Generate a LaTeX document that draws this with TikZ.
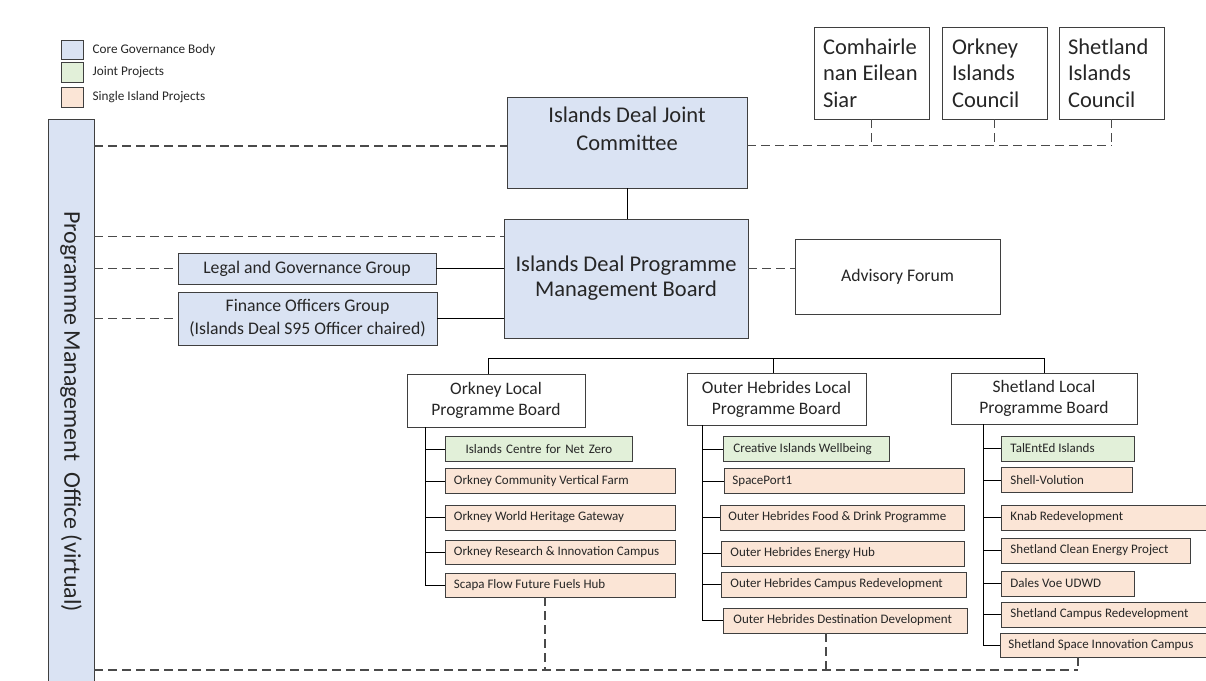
\documentclass[tikz,border=0pt]{standalone}
\usepackage{fontspec}
\setmainfont{Carlito}
\usetikzlibrary{positioning}

\definecolor{govblue}{HTML}{DAE3F3}
\definecolor{jointgreen}{HTML}{E2F0D9}
\definecolor{singlepeach}{HTML}{FBE5D6}
\definecolor{boxline}{HTML}{3F3F3F}
\definecolor{txt}{HTML}{262626}
\definecolor{dashgrey}{HTML}{4A4A4A}

\begin{document}
\begin{tikzpicture}[x=1pt, y=-1pt]
\tikzstyle{box} = [draw=boxline, line width=0.9pt, text=txt, inner sep=0pt, align=center];
\tikzstyle{core} = [box, fill=govblue];
\tikzstyle{plainbox} = [box, fill=white];
\tikzstyle{proj} = [box, anchor=west, inner xsep=9pt, minimum height=25pt, align=flush left, font=\fontsize{13}{15}\selectfont];
\tikzstyle{joint} = [proj, fill=jointgreen];
\tikzstyle{single} = [proj, fill=singlepeach];
\tikzstyle{link} = [black, line width=1pt];
\tikzstyle{dashlink} = [dashgrey, line width=1.1pt, dash pattern=on 9pt off 5pt];
\tikzstyle{big} = [font=\fontsize{22.5}{26.5}\selectfont];
\tikzstyle{mid} = [font=\fontsize{17.5}{21}\selectfont];
\tikzstyle{grp} = [font=\fontsize{17.7}{23}\selectfont];
\tikzstyle{council} = [plainbox, big, minimum height=92pt, align=flush left];
\tikzstyle{legendtxt} = [text=txt, inner sep=0pt, font=\fontsize{13.2}{15}\selectfont];

\useasboundingbox (0,0) rectangle (1206,680);
\clip (0,0) rectangle (1206,680);

% legend
\node[core, minimum width=22pt, minimum height=19pt] (lgcore) at (72,49.5) {};
\node[joint, anchor=center, minimum width=22pt, minimum height=20pt, inner xsep=0pt] (lgjoint) at (72,72) {};
\node[single, anchor=center, minimum width=22pt, minimum height=20pt, inner xsep=0pt] (lgsingle) at (72,97) {};
\node[legendtxt, right=9pt of lgcore] (lgcoret) {Core Governance Body};
\node[legendtxt, right=9pt of lgjoint] (lgjointt) {Joint Projects};
\node[legendtxt, right=9pt of lgsingle] (lgsinglet) {Single Island Projects};

% programme management office
\node[core, minimum width=46pt, minimum height=585pt] (pmo) at (71,411.5) {};
\node[rotate=-90, text=txt, font=\fontsize{24}{28}\selectfont] (pmot) at (pmo.center) {Programme Management\ \ Office (virtual)};

% councils
\node[council, inner xsep=9pt, text width=97pt] (cne) at (871.5,73) {Comhairle\\nan Eilean\\Siar};
\node[council, inner xsep=10pt, text width=85pt] (oic) at (994.5,73) {Orkney\\Islands\\Council};
\node[council, inner xsep=9pt, text width=87pt] (sic) at (1111.5,73) {Shetland\\Islands\\Council};

% governance
\node[core, font=\fontsize{22.5}{28}\selectfont, minimum width=240pt, minimum height=91pt] (jc) at (627,142.5) {Islands Deal Joint\\Committee\\ \mbox{}};
\node[core, font=\fontsize{22.5}{25}\selectfont, minimum width=244pt, minimum height=119pt] (pmb) at (626,278.5) {Islands Deal Programme\\Management Board};
\node[core, grp, minimum width=258pt, minimum height=31pt] (legal) at (307,268.5) {Legal and Governance Group};
\node[core, grp, minimum width=259pt, minimum height=53pt] (finance) at (307.5,318.5) {Finance Officers Group\\(Islands Deal S95 Officer chaired)};
\node[plainbox, grp, minimum width=205pt, minimum height=75pt] (af) at (897.5,276.5) {Advisory Forum};

% local programme boards
\node[plainbox, mid, minimum width=178pt, minimum height=53pt] (olpb) at (496,400.5) {Orkney Local\\Programme Board};
\node[plainbox, mid, minimum width=179pt, minimum height=52pt] (hlpb) at (776.5,399) {Outer Hebrides Local\\Programme Board};
\node[plainbox, mid, minimum width=186pt, minimum height=51pt] (slpb) at (1044,398.5) {Shetland Local\\Programme Board};

% orkney projects
\node[joint, text width=169pt, align=center] (o1) at (445,449) {Islands Centre for Net Zero};
\node[single, text width=213pt, inner xsep=8.5pt] (o2) at (445,481) {Orkney Community Vertical Farm};
\node[single, text width=213pt, inner xsep=8.5pt] (o3) at (445,517.5) {Orkney World Heritage Gateway};
\node[single, text width=213pt, inner xsep=8.5pt, minimum height=24pt] (o4) at (445,552) {Orkney Research \& Innovation Campus};
\node[single, text width=213pt, inner xsep=8.5pt, minimum height=24pt] (o5) at (445,585) {Scapa Flow Future Fuels Hub};

% outer hebrides projects
\node[joint, text width=146pt, inner xsep=10pt] (h1) at (723,449) {Creative Islands Wellbeing};
\node[single, text width=224pt, inner xsep=8pt] (h2) at (724,481) {SpacePort1};
\node[single, text width=228pt, inner xsep=8pt] (h3) at (720,517.5) {Outer Hebrides Food \& Drink Programme};
\node[single, text width=225pt] (h4) at (721,553.5) {Outer Hebrides Energy Hub};
\node[single, text width=227pt] (h5) at (721,584.5) {Outer Hebrides Campus Redevelopment};
\node[single, text width=224pt, inner xsep=10pt] (h6) at (723,620.5) {Outer Hebrides Destination Development};

% shetland projects
\node[joint, text width=115pt] (s1) at (1001,448.5) {TalEntEd Islands};
\node[single, text width=113pt] (s2) at (1001,480) {Shell-Volution};
\node[single, text width=196pt] (s3) at (1001,517.5) {Knab Redevelopment};
\node[single, text width=171pt] (s4) at (1001,550.5) {Shetland Clean Energy Project};
\node[single, text width=115pt] (s5) at (1001,583.5) {Dales Voe UDWD};
\node[single, text width=196pt] (s6) at (1001,614.5) {Shetland Campus Redevelopment};
\node[single, text width=198pt, inner xsep=8pt, minimum height=24pt] (s7) at (1000,645) {Shetland Space Innovation Campus};

% connectors
\draw[link] (jc.south) -- (jc.south |- pmb.north);
\draw[link] (legal.east) -- (legal.east -| pmb.west);
\draw[link] (finance.east) -- (finance.east -| pmb.west);

\coordinate (ctap) at ([yshift=-3pt]jc.east);
\draw[dashlink] (ctap) -- (ctap -| sic.south);
\foreach \c in {cne,oic,sic}
    \draw[dashlink] (\c.south) -- (\c.south |- ctap);

\coordinate (jctap) at ([yshift=-3.5pt]jc.west);
\draw[dashlink] (pmo.east |- jctap) -- (jctap);
\coordinate (pmbtap) at ([yshift=-18pt]pmb.north west);
\draw[dashlink] (pmo.east |- pmbtap) -- (pmbtap);
\draw[dashlink] (pmo.east |- legal.west) -- (legal.west);
\draw[dashlink] (pmo.east |- finance.west) -- (finance.west);
\coordinate (aftap) at ([yshift=8pt]af.west);
\draw[dashlink] (aftap -| pmb.east) -- (aftap);

% bus to local boards
\coordinate (busL) at (488,358);
\coordinate (busM) at (773,358);
\coordinate (busR) at (1044,358);
\draw[link] (busL |- olpb.north) -- (busL) -- (busR) -- (busR |- slpb.north);
\draw[link] (busM) -- (busM |- hlpb.north);

% spines
\coordinate (ospine) at (425,0);
\draw[link] (ospine |- olpb.south) |- (o5.west);
\foreach \p in {o1,o2,o3,o4}
    \draw[link] (ospine |- \p.west) -- (\p.west);

\coordinate (hspine) at (702,0);
\draw[link] (hspine |- hlpb.south) |- (h6.west);
\foreach \p in {h1,h2,h3,h4,h5}
    \draw[link] (hspine |- \p.west) -- (\p.west);

\coordinate (sspine) at (983,0);
\draw[link] (sspine |- slpb.south) |- (s7.west);
\foreach \p in {s1,s2,s3,s4,s5,s6}
    \draw[link] (sspine |- \p.west) -- (\p.west);

% bottom office line
\coordinate (bbus) at (0,670);
\coordinate (otap) at (545,670);
\coordinate (htap) at (826,670);
\coordinate (stap) at (1078,670);
\draw[dashlink] (pmo.east |- bbus) -- (stap);
\draw[dashlink] (otap |- o5.south) -- (otap);
\draw[dashlink] (htap |- h6.south) -- (htap);
\draw[dashlink] (stap |- s7.south) -- (stap);
\end{tikzpicture}
\end{document}
